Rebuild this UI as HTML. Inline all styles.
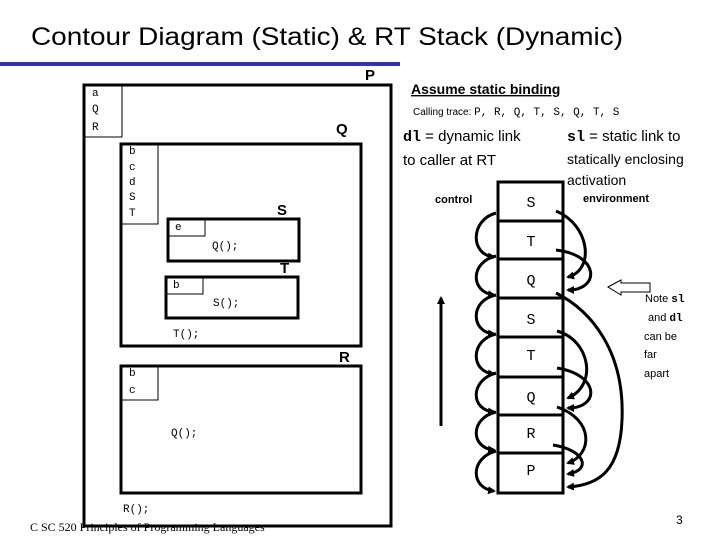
<!DOCTYPE html>
<html><head><meta charset="utf-8"><style>
body{margin:0;background:#fff}
svg{display:block}
.m{font-family:"Liberation Mono",monospace;font-size:11px}
.s{font-family:"Liberation Sans",sans-serif}
</style></head><body>
<svg width="720" height="540" viewBox="0 0 720 540" xmlns="http://www.w3.org/2000/svg">
<defs><marker id="a" markerWidth="8" markerHeight="8" refX="6" refY="4" orient="auto" markerUnits="userSpaceOnUse"><path d="M0,0 L8,4 L0,8 z" fill="#000"/></marker></defs>
<text x="31" y="45" class="s" font-size="25" textLength="592" lengthAdjust="spacingAndGlyphs">Contour Diagram (Static) &amp; RT Stack (Dynamic)</text>
<rect x="0" y="62" width="400" height="4" fill="#3333aa"/>
<g fill="none" stroke="#000">
<rect x="84" y="85" width="307" height="441" stroke-width="3"/>
<rect x="84" y="85" width="38" height="52" stroke-width="1"/>
<rect x="121" y="144" width="240" height="202" stroke-width="3"/>
<rect x="121" y="144" width="37" height="80" stroke-width="1"/>
<rect x="168" y="219" width="131" height="42" stroke-width="3"/>
<rect x="168" y="219" width="37" height="17" stroke-width="1"/>
<rect x="166" y="277" width="132" height="41" stroke-width="3"/>
<rect x="166" y="277" width="37" height="17" stroke-width="1"/>
<rect x="121" y="366" width="240" height="127" stroke-width="3"/>
<rect x="121" y="366" width="37" height="34" stroke-width="1"/>
</g>
<g class="m">
<text x="92" y="96">a</text><text x="92" y="112">Q</text><text x="92" y="130">R</text>
<text x="129" y="154">b</text><text x="129" y="170">c</text><text x="129" y="185">d</text><text x="129" y="200">S</text><text x="129" y="216">T</text>
<text x="175" y="230">e</text><text x="212" y="249">Q();</text>
<text x="173" y="288">b</text><text x="213" y="306">S();</text>
<text x="173" y="337">T();</text>
<text x="129" y="376">b</text><text x="129" y="393">c</text>
<text x="171" y="436">Q();</text>
<text x="123" y="512">R();</text>
</g>
<g class="s" font-weight="bold" font-size="15">
<text x="365" y="80">P</text><text x="336" y="134">Q</text><text x="277" y="215">S</text><text x="280" y="273">T</text><text x="339" y="362">R</text>
</g>
<text x="30" y="531" font-family="Liberation Serif,serif" font-size="12">C SC 520 Principles of Programming Languages</text>
<text x="676" y="524" class="s" font-size="12">3</text>
<text x="411" y="94" class="s" font-weight="bold" font-size="14" text-decoration="underline">Assume static binding</text>
<text x="413" y="115" class="s" font-size="10">Calling trace: <tspan class="m" font-size="10">P, R, Q, T, S,  Q, T, S</tspan></text>
<text x="403" y="141" class="s" font-size="15"><tspan font-family="Liberation Mono" font-weight="bold">dl</tspan> = dynamic link</text>
<text x="403" y="165" class="s" font-size="15">to caller at RT</text>
<text x="567" y="141" class="s" font-size="15"><tspan font-family="Liberation Mono" font-weight="bold">sl</tspan> = static link to</text>
<text x="567" y="164" class="s" font-size="14">statically enclosing</text>
<text x="567" y="185" class="s" font-size="14">activation</text>
<text x="435" y="203" class="s" font-weight="bold" font-size="11">control</text>
<text x="583" y="202" class="s" font-weight="bold" font-size="11">environment</text>
<g fill="none" stroke="#000" stroke-width="3">
<rect x="498" y="182" width="65" height="311"/>
<path d="M498 221H563M498 259H563M498 298H563M498 337H563M498 377H563M498 415H563M498 453H563"/>
</g>
<g font-family="Liberation Mono,monospace" font-size="15" text-anchor="middle">
<text x="531" y="207">S</text><text x="531" y="246">T</text><text x="531" y="285">Q</text><text x="531" y="324">S</text><text x="531" y="360">T</text><text x="531" y="402">Q</text><text x="531" y="438">R</text><text x="531" y="475">P</text>
</g>
<line x1="441" y1="426" x2="441" y2="298" stroke="#000" stroke-width="3" marker-end="url(#a)"/>
<g fill="none" stroke="#000" stroke-width="3" marker-end="url(#a)">
<path d="M496 213 C470 220,470 255,494 257"/>
<path d="M496 256 C470 262,470 292,494 295"/>
<path d="M496 295 C470 300,470 332,494 334"/>
<path d="M496 334 C470 340,470 372,494 374"/>
<path d="M496 373 C470 380,470 410,494 412"/>
<path d="M496 412 C470 418,470 448,494 450"/>
<path d="M496 451 C470 458,470 488,494 491"/>
<path d="M556 211 C590 225,595 270,568 277"/>
<path d="M556 250 C600 255,600 290,568 290"/>
<path d="M557 331 C590 340,598 385,568 398"/>
<path d="M557 368 C600 375,600 408,568 408"/>
<path d="M557 407 C595 420,592 455,568 463"/>
<path d="M553 445 C585 450,592 470,568 474"/>
<path d="M556 293 C590 310,625 350,622 420 C620 470,600 485,568 487"/>
</g>
<path d="M608 287 L621 280 V283 H650 V292 H621 V295 Z" fill="#fff" stroke="#000" stroke-width="1"/>
<g class="s" font-size="11">
<text x="645" y="302">Note <tspan font-family="Liberation Mono" font-weight="bold">sl</tspan></text>
<text x="648" y="321">and <tspan font-family="Liberation Mono" font-weight="bold">dl</tspan></text>
<text x="644" y="340">can be</text>
<text x="644" y="358">far</text>
<text x="644" y="377">apart</text>
</g>
</svg>
</body></html>
